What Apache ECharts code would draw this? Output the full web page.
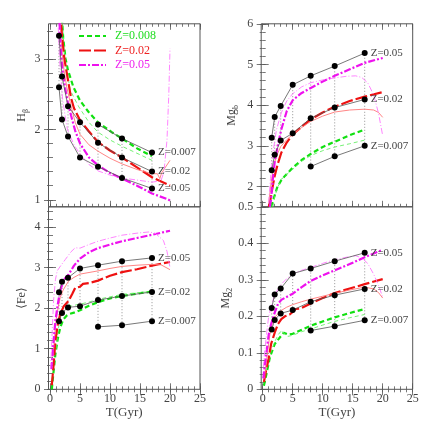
<!DOCTYPE html>
<html><head><meta charset="utf-8">
<script src="https://cdn.jsdelivr.net/npm/echarts@6/dist/echarts.min.js"></script>
<style>html,body{margin:0;padding:0;background:#fff}#c{width:436px;height:436px}</style>
</head><body><div id="c"></div>
<script>
const FONT = "'Liberation Serif','DejaVu Serif',serif";

// ---- ages of the black model points ----
const trackT = [1.5, 2, 3, 5, 8, 12, 17];
const trackT007 = [8, 12, 17];

// ---- tick values ----
const xMajor = [0, 5, 10, 15, 20, 25];
const hbYMajor = [1, 2, 3];
const mgbYMajor = [2, 3, 4, 5, 6];
const feYMajor = [0, 1, 2, 3, 4];
const mg2YMajor = [0, 0.1, 0.2, 0.3, 0.4, 0.5];

// ---- Hbeta panel ----
const hbZ05 = [2.60, 2.14, 1.90, 1.60, 1.47, 1.31, 1.16];
const hbZ02 = [3.33, 2.75, 2.33, 2.10, 1.81, 1.60, 1.40];
const hbZ007 = [2.07, 1.87, 1.67];
const hbGreenThick = [[1.9,3.7],[2.2,3.3],[2.6,3.0],[3.0,2.84],[3.9,2.6],[5,2.41],[6.4,2.25],[8,2.1],[10.3,1.96],[12,1.87],[14.7,1.72],[17,1.62]];
const hbGreenThin = [[2.0,3.6],[2.3,3.2],[2.6,2.94],[3.4,2.55],[4.8,2.32],[6.5,2.1],[8,1.96],[10,1.85],[12,1.76],[14.5,1.66],[17,1.56]];
const hbRedThick = [[1.7,3.7],[2.0,3.32],[2.4,3.0],[2.9,2.75],[3.5,2.45],[4.0,2.3],[5,2.13],[6.5,1.97],[8,1.82],[10,1.70],[12,1.60],[14.5,1.46],[17,1.32],[20,1.2]];
const hbRedThin = [[1.6,3.6],[2.0,3.1],[2.4,2.8],[2.8,2.6],[3.4,2.37],[4.2,2.1],[5,1.93],[6.5,1.78],[8,1.69],[10,1.59],[12,1.51],[14.5,1.43],[17,1.37],[17.9,1.37],[18.3,1.3],[18.6,1.38],[20,1.56]];
const hbMagThick = [[1.5,3.7],[1.7,3.3],[2.0,2.9],[2.5,2.6],[2.9,2.41],[3.5,2.2],[4.2,1.98],[5,1.8],[6.5,1.6],[8,1.49],[10,1.38],[12,1.3],[14.5,1.2],[17,1.09],[19.5,1.01],[20,0.99]];
const hbMagThin = [[1.3,3.6],[1.6,3.0],[2.0,2.5],[2.5,2.2],[2.9,2.0],[4,1.78],[5,1.65],[6.5,1.5],[8,1.41],[10,1.35],[12,1.31],[14.5,1.28],[17,1.25],[18.5,1.27],[19,1.4],[19.5,1.85],[19.8,2.5],[20,3.15]];

// ---- Mgb panel ----
const mgbZ05 = [3.20, 3.71, 3.98, 4.50, 4.72, 4.96, 5.28];
const mgbZ02 = [2.40, 2.78, 3.13, 3.31, 3.68, 3.94, 4.14];
const mgbZ007 = [2.49, 2.74, 3.00];
const mgbGreenThick = [[1.4,1.5],[1.7,1.64],[2.4,1.97],[3.0,2.13],[3.7,2.26],[5,2.46],[6.5,2.65],[8,2.8],[10,2.97],[12,3.1],[14.5,3.26],[17,3.4]];
const mgbGreenThin = [[1.7,1.5],[2.0,1.75],[2.7,2.05],[3.0,2.17],[3.5,2.22],[4,2.3],[5,2.42],[6.5,2.62],[8,2.76],[10,2.88],[12,2.97],[14.5,3.05],[17,3.14]];
const mgbRedThick = [[1.0,1.5],[1.2,1.6],[1.6,1.95],[2.0,2.26],[2.5,2.55],[3.1,2.83],[4,3.08],[5,3.28],[6.5,3.47],[8,3.65],[10,3.82],[12,3.96],[14.5,4.1],[17,4.21],[20,4.32]];
const mgbRedThin = [[1.0,1.6],[1.5,2.2],[2.0,2.6],[2.3,2.75],[3,2.98],[4,3.15],[5,3.28],[6.5,3.45],[8,3.6],[10,3.73],[12,3.83],[14.5,3.88],[17,3.9],[18.5,3.88],[19.3,3.82],[20,3.7]];
const mgbMagThick = [[1.2,1.5],[1.4,1.7],[1.7,2.2],[2.0,2.6],[2.5,3.0],[3.1,3.4],[4,3.85],[5,4.12],[6.5,4.3],[8,4.42],[10,4.58],[12,4.72],[14.5,4.88],[17,5.04],[20,5.16]];
const mgbMagThin = [[1.0,1.6],[1.3,2.2],[1.7,2.83],[2.3,3.4],[3.1,3.81],[4,4.1],[5,4.28],[6.5,4.45],[8,4.55],[10,4.62],[12,4.67],[14,4.71],[15.5,4.72],[16.5,4.68],[17.5,4.55],[18.5,4.25],[19.3,3.8],[20,3.25]];

// ---- <Fe> panel ----
const feZ05 = [2.39, 2.65, 2.75, 2.98, 3.06, 3.16, 3.24];
const feZ02 = [1.68, 1.88, 2.02, 2.05, 2.20, 2.30, 2.40];
const feZ007 = [1.54, 1.58, 1.68];
const feGreenThick = [[0.3,0.0],[0.5,0.3],[0.9,0.87],[1.3,1.25],[1.7,1.52],[2.2,1.72],[2.8,1.82],[3.3,1.86],[4,1.89],[5,1.95],[6.5,2.06],[8,2.15],[10,2.24],[12,2.3],[14.5,2.36],[17,2.41]];
const feGreenThin = [[1.0,1.0],[1.4,1.5],[1.7,1.77],[2.2,1.93],[2.8,2.05],[3.1,2.12],[3.5,2.05],[4,2.07],[5,2.1],[6.5,2.15],[8,2.22],[10,2.28],[12,2.34],[14.5,2.38],[17,2.41]];
const feRedThick = [[0.3,0.1],[0.6,0.6],[0.9,1.2],[1.3,1.6],[1.7,1.85],[2.3,2.05],[3.1,2.18],[3.7,2.35],[4.2,2.5],[5,2.53],[5.5,2.6],[6.5,2.62],[8,2.68],[10,2.8],[12,2.89],[14.5,2.96],[17,3.05],[20,3.14]];
const feRedThin = [[0.5,0.8],[1.0,1.7],[1.4,2.05],[1.7,2.26],[2.2,2.45],[3.1,2.67],[4,2.76],[5,2.84],[6.5,2.88],[8,2.92],[10,2.98],[12,3.03],[14.5,3.06],[17,3.08],[18.5,3.07],[20,2.95]];
const feMagThick = [[0.2,0.5],[0.3,0.62],[0.6,1.2],[0.9,1.69],[1.3,2.1],[1.7,2.43],[2.3,2.7],[3.1,2.83],[4,3.05],[5,3.22],[6.5,3.38],[8,3.48],[10,3.57],[12,3.65],[14.5,3.73],[17,3.81],[20,3.91]];
const feMagThin = [[0.1,0.5],[0.3,1.2],[0.6,2.2],[0.9,2.7],[1.2,2.92],[1.8,3.05],[2.55,3.2],[3.5,3.39],[4.2,3.49],[5,3.48],[6.5,3.57],[8,3.65],[10,3.73],[12,3.8],[14.5,3.85],[16.5,3.88],[17.5,3.85],[18.9,3.67],[19.5,3.4],[20,3.0]];

// ---- Mg2 panel ----
const mg2Z05 = [0.223, 0.260, 0.276, 0.317, 0.331, 0.351, 0.374];
const mg2Z02 = [0.164, 0.190, 0.208, 0.217, 0.240, 0.258, 0.275];
const mg2Z007 = [0.161, 0.173, 0.189];
const mg2GreenThick = [[0.2,0.01],[0.6,0.04],[1.2,0.088],[2.0,0.124],[3.1,0.147],[3.5,0.155],[4.2,0.15],[5,0.152],[6.5,0.163],[8,0.174],[10,0.186],[12,0.197],[14.5,0.209],[17,0.22]];
const mg2GreenThin = [[0.8,0.06],[1.3,0.1],[2.0,0.13],[2.6,0.15],[3.2,0.162],[3.6,0.152],[4.2,0.145],[5,0.148],[6.5,0.158],[8,0.165],[10,0.176],[12,0.186],[14.5,0.196],[17,0.205]];
const mg2RedThick = [[0.2,0.02],[0.6,0.055],[1.0,0.085],[1.4,0.124],[2.0,0.155],[2.55,0.179],[3.1,0.192],[3.7,0.2],[4.5,0.205],[5,0.212],[5.5,0.22],[6.4,0.222],[8,0.235],[10,0.25],[12,0.264],[14.5,0.276],[17,0.288],[20,0.302]];
const mg2RedThin = [[0.3,0.03],[0.8,0.1],[1.2,0.15],[1.6,0.18],[2.0,0.197],[3,0.215],[4,0.225],[5,0.232],[6.5,0.24],[8,0.247],[10,0.255],[12,0.263],[14.5,0.272],[17,0.28],[18.5,0.275],[19.3,0.265],[20,0.25]];
const mg2MagThick = [[0.1,0.03],[0.3,0.06],[0.7,0.11],[1.0,0.15],[1.4,0.179],[2.0,0.21],[2.55,0.234],[3.1,0.245],[4.2,0.255],[5,0.262],[6.5,0.28],[8,0.297],[10,0.312],[12,0.326],[14.5,0.343],[17,0.362],[20,0.382]];
const mg2MagThin = [[0.1,0.06],[0.3,0.1],[0.7,0.16],[1.0,0.2],[1.4,0.225],[2.0,0.26],[3.1,0.288],[4,0.303],[5,0.316],[6.5,0.326],[8,0.334],[10,0.345],[12,0.355],[14,0.362],[15.5,0.366],[16.5,0.36],[17.5,0.345],[18.5,0.315],[19.3,0.285],[20,0.252]];

// ---- layout ----
function steps(a, b, s) { const out = []; for (let v = a; v <= b + 1e-9; v += s) out.push(Math.round(v * 1000) / 1000); return out; }
const xMinor = steps(0, 25, 1);
const panels = [
  { box: {left: 48.5, top: 23.8, width: 151.5, height: 183}, ymin: 0.9, ymax: 3.5, major: hbYMajor, minor: steps(1, 3.4, 0.2), xlabels: false,
    name: '{a|H}{b|β}', nameGap: 20, z05: hbZ05, z02: hbZ02, z007: hbZ007,
    curves: [hbGreenThick, hbGreenThin, hbRedThick, hbRedThin, hbMagThick, hbMagThin] },
  { box: {left: 261.2, top: 23.8, width: 151.5, height: 183}, ymin: 1.5, ymax: 6, major: mgbYMajor, minor: steps(1.6, 6, 0.2), xlabels: false,
    name: '{a|Mg}{b|b}', nameGap: 22, z05: mgbZ05, z02: mgbZ02, z007: mgbZ007,
    curves: [mgbGreenThick, mgbGreenThin, mgbRedThick, mgbRedThin, mgbMagThick, mgbMagThin] },
  { box: {left: 48.5, top: 206.8, width: 151.5, height: 182.5}, ymin: 0, ymax: 4.5, major: feYMajor, minor: steps(0, 4.4, 0.2), xlabels: true,
    name: '{a|⟨Fe⟩}', nameGap: 20, z05: feZ05, z02: feZ02, z007: feZ007,
    curves: [feGreenThick, feGreenThin, feRedThick, feRedThin, feMagThick, feMagThin] },
  { box: {left: 261.2, top: 206.8, width: 151.5, height: 182.5}, ymin: 0, ymax: 0.5, major: mg2YMajor, minor: steps(0, 0.5, 0.02), xlabels: true,
    name: '{a|Mg}{b|2}', nameGap: 26, z05: mg2Z05, z02: mg2Z02, z007: mg2Z007,
    curves: [mg2GreenThick, mg2GreenThin, mg2RedThick, mg2RedThin, mg2MagThick, mg2MagThin] }
];

const styles = [
  { name: 'Z=0.008', color: '#11e011', width: 2.2, type: [5, 3] },
  { name: 'g-thin',  color: '#66ee66', width: 0.9, type: [4, 3] },
  { name: 'Z=0.02',  color: '#ee1111', width: 2.2, type: [12, 3] },
  { name: 'r-thin',  color: '#ff7777', width: 0.9, type: 'solid' },
  { name: 'Z=0.05',  color: '#ee11ee', width: 2.2, type: [7, 2, 2, 2] },
  { name: 'm-thin',  color: '#ff77ff', width: 0.9, type: [6, 2, 1, 2] }
];

const tickLine = {color: '#555', width: 0.8};
const labelStyle = {color: '#444', fontSize: 12, fontFamily: FONT};
const grids = [], xAxes = [], yAxes = [], series = [];

panels.forEach((p, i) => {
  const gMaj = grids.length;
  grids.push(Object.assign({show: true, borderColor: '#555', borderWidth: 1, backgroundColor: 'transparent', containLabel: false, outerBoundsMode: 'none'}, p.box));
  const gMin = grids.length;
  grids.push(Object.assign({show: false, containLabel: false, outerBoundsMode: 'none'}, p.box));
  const xBase = {type: 'value', min: -0.25, max: 25, axisLine: {show: false}, splitLine: {show: false}};
  const yBase = {type: 'value', min: p.ymin, max: p.ymax, axisLine: {show: false}, splitLine: {show: false}};
  const xi = xAxes.length, yi = yAxes.length;
  xAxes.push(Object.assign({}, xBase, {gridIndex: gMaj, position: 'bottom',
    axisTick: {show: true, inside: true, length: 6, customValues: xMajor, lineStyle: tickLine},
    axisLabel: {show: p.xlabels, customValues: xMajor, margin: 4, showMinLabel: true, showMaxLabel: true, ...labelStyle},
    name: p.xlabels ? 'T(Gyr)' : '', nameLocation: 'middle', nameGap: 16,
    nameTextStyle: {color: '#444', fontSize: 13, fontFamily: FONT}}));
  xAxes.push(Object.assign({}, xBase, {gridIndex: gMaj, position: 'top',
    axisTick: {show: true, inside: true, length: 6, customValues: xMajor, lineStyle: tickLine}, axisLabel: {show: false}}));
  xAxes.push(Object.assign({}, xBase, {gridIndex: gMin, position: 'bottom',
    axisTick: {show: true, inside: true, length: 3, customValues: xMinor, lineStyle: tickLine}, axisLabel: {show: false}}));
  xAxes.push(Object.assign({}, xBase, {gridIndex: gMin, position: 'top',
    axisTick: {show: true, inside: true, length: 3, customValues: xMinor, lineStyle: tickLine}, axisLabel: {show: false}}));
  yAxes.push(Object.assign({}, yBase, {gridIndex: gMaj, position: 'left',
    axisTick: {show: true, inside: true, length: 6, customValues: p.major, lineStyle: tickLine},
    axisLabel: {show: true, customValues: p.major, margin: 8, showMinLabel: true, showMaxLabel: true, ...labelStyle},
    name: p.name, nameLocation: 'middle', nameGap: p.nameGap, nameRotate: 90,
    nameTextStyle: {color: '#444', fontFamily: FONT, rich: {
      a: {fontSize: 12, lineHeight: 13, verticalAlign: 'top', color: '#444', fontFamily: FONT},
      b: {fontSize: 8, lineHeight: 9, padding: [6, 0, 0, 0], verticalAlign: 'top', color: '#444', fontFamily: FONT}}}}));
  yAxes.push(Object.assign({}, yBase, {gridIndex: gMaj, position: 'right',
    axisTick: {show: true, inside: true, length: 6, customValues: p.major, lineStyle: tickLine}, axisLabel: {show: false}}));
  yAxes.push(Object.assign({}, yBase, {gridIndex: gMin, position: 'left',
    axisTick: {show: true, inside: true, length: 3, customValues: p.minor, lineStyle: tickLine}, axisLabel: {show: false}}));
  yAxes.push(Object.assign({}, yBase, {gridIndex: gMin, position: 'right',
    axisTick: {show: true, inside: true, length: 3, customValues: p.minor, lineStyle: tickLine}, axisLabel: {show: false}}));

  // vertical dotted connectors between the tracks at equal age
  trackT.forEach((t, k) => {
    const vals = [p.z05[k], p.z02[k]];
    const j = trackT007.indexOf(t);
    if (j >= 0) vals.push(p.z007[j]);
    series.push({type: 'line', xAxisIndex: xi, yAxisIndex: yi, symbol: 'none', silent: true, z: 1,
      data: [[t, Math.min(...vals)], [t, Math.max(...vals)]],
      lineStyle: {color: '#777', width: 0.8, type: [1, 2]}});
  });

  // model curves
  p.curves.forEach((c, k) => {
    const s = styles[k];
    series.push({type: 'line', name: s.name, xAxisIndex: xi, yAxisIndex: yi, symbol: 'none', z: 2, color: s.color,
      data: c, clip: true, lineStyle: {color: s.color, width: s.width, type: s.type}});
  });

  // black tracks with points
  const tracks = [[trackT, p.z05, 'Z=0.05'], [trackT, p.z02, 'Z=0.02'], [trackT007, p.z007, 'Z=0.007']];
  tracks.forEach(([ts, vs, lab]) => {
    series.push({type: 'line', name: 'track ' + lab, xAxisIndex: xi, yAxisIndex: yi, z: 4,
      data: ts.map((t, k) => [t, vs[k]]), symbol: 'circle', symbolSize: 6,
      itemStyle: {color: '#000'}, lineStyle: {color: '#555', width: 0.8},
      endLabel: {show: true, formatter: lab, distance: 6, color: '#444', fontSize: 11, fontFamily: FONT}});
  });
});

const chart = echarts.init(document.getElementById('c'), null, {renderer: 'canvas'});
chart.setOption({
  animation: false,
  backgroundColor: '#fff',
  grid: grids, xAxis: xAxes, yAxis: yAxes, series: series,
  legend: {left: 78, top: 30, padding: 0, orient: 'vertical', itemWidth: 27, itemHeight: 12, itemGap: 2.5,
    selectedMode: false, itemStyle: {opacity: 0},
    textStyle: {fontFamily: FONT, fontSize: 12, padding: [0, 0, 0, 4]},
    data: [
      {name: 'Z=0.008', textStyle: {color: '#22dd22'}},
      {name: 'Z=0.02', textStyle: {color: '#ee2222'}},
      {name: 'Z=0.05', textStyle: {color: '#ee22ee'}}
    ]}
});
</script></body></html>
